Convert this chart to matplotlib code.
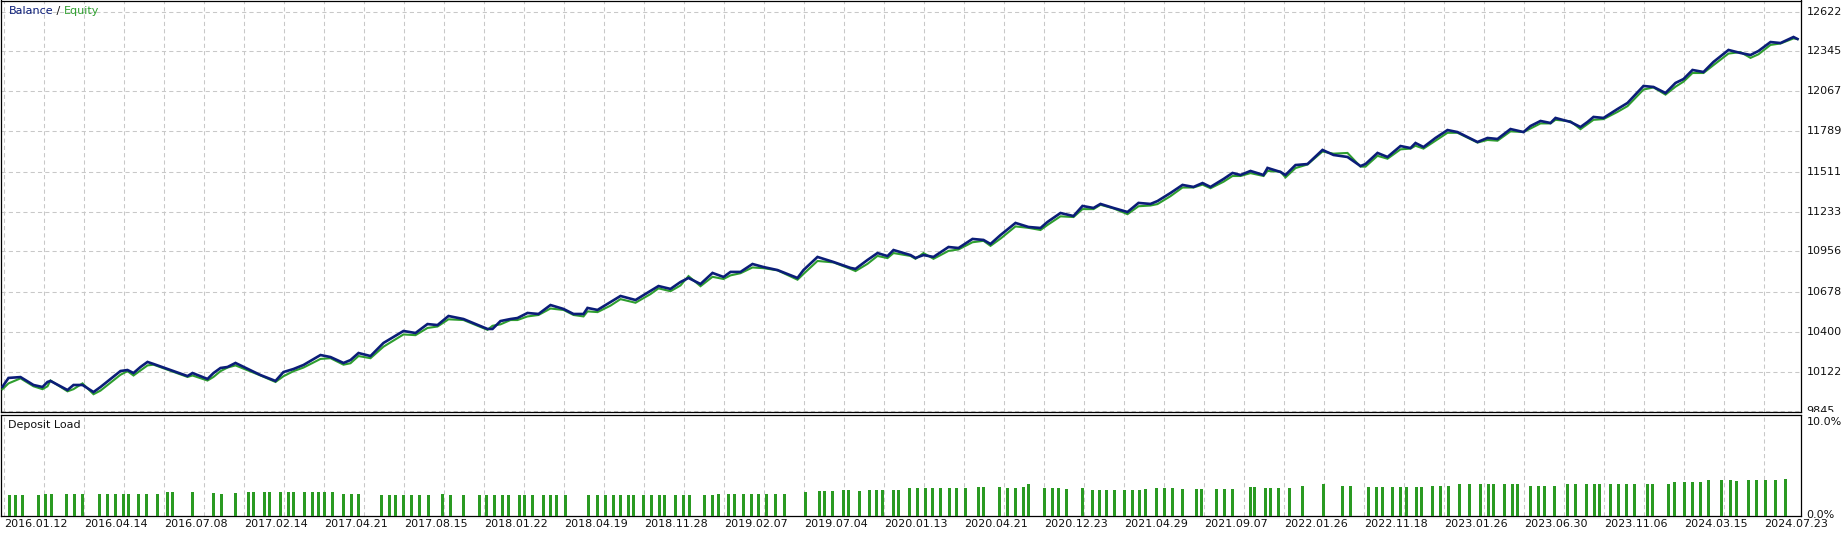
import numpy as np
import matplotlib
matplotlib.use("Agg")
import matplotlib.pyplot as plt
from matplotlib.transforms import Bbox

# ---------------- data ----------------
trade_idx = [2, 8, 20, 33, 42, 47, 50, 67, 73, 82, 93, 100, 120, 127, 133, 140, 147, 153, 187, 192,
             207, 213, 220, 227, 235, 260, 275, 283, 293, 303, 320, 330, 343, 350, 358, 370, 383, 403,
             415, 427, 437, 448, 463, 487, 492, 500, 510, 517, 527, 538, 550, 563, 573, 583, 587, 597,
             610, 620, 635, 650, 658, 670, 680, 688, 700, 712, 723, 730, 740, 752, 763, 777, 797, 803,
             817, 833, 850, 855, 867, 877, 887, 893, 910, 915, 923, 933, 948, 958, 972, 983, 990, 1000,
             1015, 1028, 1040, 1047, 1060, 1073, 1082, 1093, 1100, 1113, 1127, 1138, 1150, 1157, 1170,
             1182, 1193, 1202, 1210, 1223, 1232, 1240, 1250, 1263, 1267, 1280, 1285, 1295, 1307, 1322,
             1333, 1347, 1360, 1365, 1377, 1387, 1400, 1410, 1415, 1423, 1435, 1447, 1457, 1477, 1487,
             1497, 1510, 1523, 1530, 1540, 1550, 1555, 1570, 1580, 1587, 1593, 1603, 1617, 1627, 1643,
             1653, 1665, 1675, 1683, 1692, 1703, 1713, 1728, 1740, 1750, 1758, 1770, 1780, 1793, 1797]

balance = [10017, 10078, 10084, 10029, 10015, 10050, 10057, 9994, 10029, 10029, 9980, 10015, 10126,
           10133, 10112, 10154, 10189, 10175, 10091, 10112, 10071, 10112, 10147, 10154, 10182, 10098,
           10057, 10119, 10140, 10168, 10237, 10223, 10182, 10202, 10251, 10230, 10321, 10404, 10390,
           10452, 10445, 10508, 10487, 10418, 10418, 10473, 10487, 10494, 10529, 10522, 10584, 10557,
           10522, 10522, 10564, 10550, 10605, 10647, 10619, 10682, 10716, 10696, 10744, 10772, 10730,
           10807, 10779, 10814, 10814, 10869, 10848, 10827, 10772, 10827, 10918, 10883, 10842, 10835,
           10897, 10945, 10924, 10966, 10931, 10911, 10931, 10918, 10987, 10980, 11043, 11036, 11008,
           11070, 11154, 11126, 11119, 11161, 11223, 11202, 11272, 11258, 11286, 11258, 11230, 11293,
           11286, 11306, 11362, 11418, 11404, 11431, 11404, 11459, 11501, 11487, 11515, 11487, 11536,
           11508, 11487, 11556, 11563, 11661, 11626, 11612, 11549, 11563, 11640, 11612, 11688, 11674,
           11709, 11681, 11744, 11799, 11785, 11716, 11744, 11737, 11806, 11785, 11827, 11862, 11848,
           11883, 11855, 11820, 11855, 11890, 11883, 11945, 11987, 12105, 12098, 12056, 12126, 12153,
           12216, 12202, 12272, 12355, 12334, 12320, 12348, 12410, 12403, 12445, 12431]

equity = [10000, 10040, 10075, 10020, 10000, 10020, 10060, 9985, 10000, 10040, 9965, 9990, 10100,
          10125, 10095, 10130, 10165, 10170, 10085, 10095, 10060, 10085, 10125, 10150, 10165, 10095,
          10050, 10090, 10125, 10150, 10210, 10215, 10170, 10180, 10230, 10215, 10295, 10380, 10375,
          10425, 10435, 10485, 10480, 10412, 10440, 10450, 10480, 10480, 10505, 10515, 10560, 10550,
          10515, 10505, 10540, 10535, 10580, 10625, 10600, 10660, 10700, 10680, 10720, 10785, 10715,
          10780, 10765, 10790, 10805, 10845, 10840, 10825, 10760, 10800, 10890, 10880, 10835, 10820,
          10870, 10925, 10910, 10945, 10925, 10905, 10945, 10905, 10960, 10970, 11020, 11030, 10995,
          11045, 11130, 11120, 11105, 11140, 11200, 11195, 11250, 11250, 11280, 11255, 11215, 11270,
          11275, 11285, 11340, 11400, 11400, 11420, 11395, 11440, 11480, 11480, 11500, 11480, 11515,
          11510, 11470, 11535, 11560, 11650, 11635, 11640, 11545, 11545, 11620, 11600, 11665, 11670,
          11690, 11670, 11725, 11780, 11780, 11712, 11730, 11725, 11790, 11785, 11810, 11845, 11845,
          11870, 11860, 11805, 11840, 11870, 11875, 11925, 11965, 12080, 12095, 12045, 12100, 12135,
          12195, 12195, 12250, 12330, 12340, 12300, 12325, 12390, 12400, 12435, 12431]

load_idx = [9, 15, 22, 38, 45, 51, 66, 74, 82, 99, 107, 115, 123, 128, 138, 146, 157, 167, 172, 192,
            213, 221, 235, 248, 253, 264, 269, 280, 288, 293, 304, 312, 318, 324, 332, 343, 351, 358,
            381, 389, 395, 403, 411, 419, 428, 442, 450, 463, 479, 486, 494, 502, 508, 519, 524, 532,
            543, 550, 556, 565, 588, 597, 605, 613,
            620, 628, 633, 643, 651, 659, 664, 675, 683, 689, 704, 712, 718, 728, 734, 743, 751, 758,
            766, 775, 784, 805, 819, 824, 832, 843, 848, 859, 869, 876, 882, 893, 898, 909, 917, 925,
            932, 940, 949, 956, 965, 978, 983, 999, 1007, 1015, 1023, 1028, 1044, 1052, 1058, 1066,
            1082, 1092, 1099, 1106, 1114, 1124, 1132, 1139, 1145, 1156, 1164, 1172, 1182, 1196, 1201,
            1216, 1224, 1232,
            1250, 1254, 1265, 1270, 1278, 1289, 1302, 1323, 1342, 1350, 1368, 1376, 1382, 1392, 1400,
            1406, 1416, 1421, 1432, 1440, 1448, 1459, 1469, 1480, 1488, 1493, 1504, 1512, 1517, 1530,
            1538, 1544, 1554, 1567, 1575, 1586, 1594, 1599, 1610, 1618, 1626, 1634, 1647, 1652, 1668,
            1674, 1684, 1692, 1700, 1708, 1721, 1730, 1736, 1748, 1756, 1765, 1775, 1785]

deposit_load = [2.14, 2.14, 2.14, 2.14, 2.32, 2.32, 2.32, 2.32, 2.32, 2.25, 2.25, 2.25, 2.32, 2.32,
                2.25, 2.25, 2.32, 2.50, 2.50, 2.50, 2.39, 2.32, 2.39, 2.46, 2.46, 2.53, 2.53, 2.46,
                2.46, 2.46, 2.46, 2.46, 2.53, 2.53, 2.46, 2.32, 2.32, 2.32,
                2.21, 2.21, 2.21, 2.21, 2.21, 2.21, 2.21, 2.32, 2.21, 2.21, 2.21, 2.21, 2.21, 2.21,
                2.21, 2.21, 2.21, 2.21, 2.21, 2.21, 2.21, 2.21, 2.14, 2.14, 2.14, 2.21,
                2.21, 2.14, 2.21, 2.21, 2.14, 2.21, 2.21, 2.21, 2.21, 2.21, 2.21, 2.21, 2.32, 2.32,
                2.32, 2.32, 2.32, 2.32, 2.32, 2.32, 2.32, 2.46, 2.67, 2.67, 2.67, 2.78, 2.78, 2.67,
                2.78, 2.78, 2.78, 2.78, 2.78, 2.89, 2.89, 2.89, 2.89, 2.89, 2.96, 2.96, 2.96, 3.10,
                3.10, 3.10, 2.96, 2.96, 3.10, 3.32, 2.96, 2.96, 2.89, 2.85, 2.96, 2.78, 2.78, 2.78,
                2.78, 2.78, 2.78, 2.78, 2.85, 2.96, 2.96, 2.96, 2.85, 2.85, 2.85, 2.85, 2.85, 2.85,
                3.10, 3.10, 2.96, 2.96, 2.96, 2.96, 3.17, 3.32, 3.17, 3.17, 3.10, 3.10, 3.10, 3.10,
                3.10, 3.10, 3.10, 3.10, 3.17, 3.17, 3.17, 3.32, 3.32, 3.32, 3.32, 3.32, 3.32, 3.42,
                3.32, 3.17, 3.17, 3.17, 3.17, 3.32, 3.42, 3.42, 3.42, 3.32, 3.42, 3.32, 3.42, 3.42,
                3.32, 3.32, 3.32, 3.53, 3.53, 3.53, 3.53, 3.81, 3.81, 3.81, 3.71, 3.81, 3.81, 3.81,
                3.81, 3.92]

y_ticks = [9845, 10122, 10400, 10678, 10956, 11233, 11511, 11789, 12067, 12345, 12622]
date_labels = ["2016.01.12", "2016.04.14", "2016.07.08", "2017.02.14", "2017.04.21", "2017.08.15",
               "2018.01.22", "2018.04.19", "2018.11.28", "2019.02.07", "2019.07.04", "2020.01.13",
               "2020.04.21", "2020.12.23", "2021.04.29", "2021.09.07", "2022.01.26", "2022.11.18",
               "2023.01.26", "2023.06.30", "2023.11.06", "2024.03.15", "2024.07.23"]
load_ticks = [0.0, 10.0]

# ---------------- style ----------------
W, H, DPI = 1847, 535, 100
NAVY = "#0b1d78"
GREEN = "#2e9e2e"
BAR_GREEN = "#2a9a22"
GRID = "#c8c8c8"
TXT = "#111111"
FS = 8
plt.rcParams["font.family"] = ["DejaVu Sans"]

fig = plt.figure(figsize=(W / DPI, H / DPI), dpi=DPI)
fig.patch.set_facecolor("white")


def px_axes(left, top, right, bottom):
    return fig.add_axes([left / W, 1 - bottom / H, (right - left) / W, (bottom - top) / H])


ax = px_axes(0.5, 0.5, 1801, 412)
ax2 = px_axes(0.5, 414.5, 1801, 515.5)

XMAX = 1800.5
grid_x = 3.2 + 40.0 * np.arange(45)

for a in (ax, ax2):
    a.set_xlim(0, XMAX)
    for s in a.spines.values():
        s.set_color("black")
        s.set_linewidth(0.9)
    a.set_xticks(grid_x)
    a.tick_params(axis="both", length=0, labelsize=FS, colors=TXT)
    a.grid(axis="x", color=GRID, linestyle=(0, (4, 3)), linewidth=0.75)
    a.set_axisbelow(True)

# main panel
ax.set_ylim(9841.5, 12698.4)
ax.set_yticks(y_ticks)
ax.set_yticklabels([])
ax.set_xticklabels([])
ax.grid(axis="y", color=GRID, linestyle=(0, (4, 3)), linewidth=0.75)
ax.plot(trade_idx, equity, color=GREEN, linewidth=1.5, solid_joinstyle="miter", zorder=3)
ax.plot(trade_idx, balance, color=NAVY, linewidth=1.9, solid_joinstyle="miter", zorder=4)

ytr = ax.get_yaxis_transform()
xoff = 1 + 5.5 / XMAX
for v in y_ticks:
    t = ax.text(xoff, v, str(v), transform=ytr, ha="left", va="center", fontsize=FS,
                color=TXT, clip_on=(v == y_ticks[0]))
    if v == y_ticks[0]:
        t.set_clip_path(None)
        t.set_clip_box(Bbox.from_extents(0, H - 411.5, W, H))

# legend-like title
t1 = ax.text(8 / XMAX, 1 - 10.5 / 411.5, "Balance", transform=ax.transAxes, ha="left",
             va="center", fontsize=FS, color=NAVY)
t2 = ax.annotate(" / ", xy=(1, 0), xycoords=t1, ha="left", va="bottom", fontsize=FS, color=TXT)
t3 = ax.annotate("Equity", xy=(1, 0), xycoords=t2, ha="left", va="bottom", fontsize=FS,
                 color=GREEN)

# deposit load panel
ax2.set_ylim(0, 10.8)
ax2.set_yticks([])
ax2.bar(load_idx, deposit_load, width=2.4, color=BAR_GREEN, linewidth=0, antialiased=False,
        zorder=3)
labels = [lab if i % 2 == 0 else "" for i, lab in enumerate(
    [d for pair in zip(date_labels, [""] * len(date_labels)) for d in pair][:45])]
ax2.set_xticklabels(labels)
for lab in ax2.get_xticklabels():
    lab.set_horizontalalignment("left")
ax2.tick_params(axis="x", pad=2.5)

ytr2 = ax2.get_yaxis_transform()
for v in load_ticks:
    ax2.text(xoff, v, f"{v:.1f}%", transform=ytr2, ha="left", va="center", fontsize=FS,
             color=TXT, clip_on=False)
ax2.text(7 / XMAX, 1 - 10 / 101, "Deposit Load", transform=ax2.transAxes, ha="left",
         va="center", fontsize=FS, color=TXT)

fig.savefig("out.png", dpi=DPI, facecolor="white")
